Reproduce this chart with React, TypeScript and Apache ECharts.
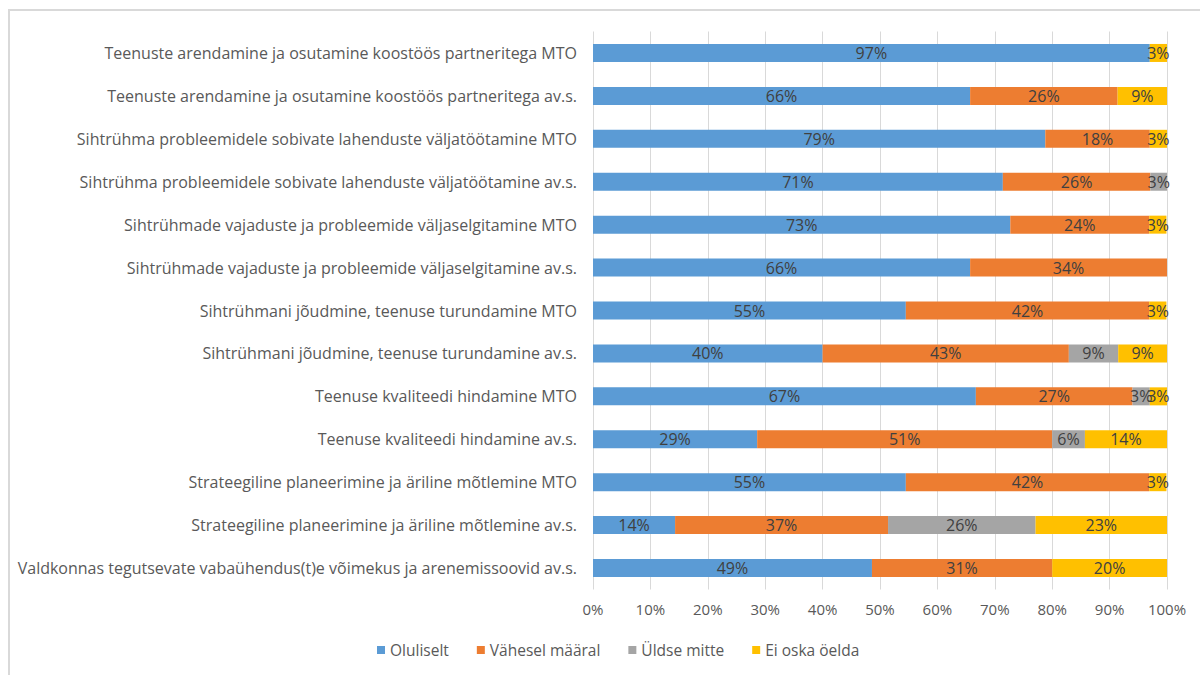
import React, { useEffect, useRef } from "react";
import * as echarts from "echarts";

const categories = [
  "Teenuste arendamine ja osutamine koostöös partneritega MTO",
  "Teenuste arendamine ja osutamine koostöös partneritega av.s.",
  "Sihtrühma probleemidele sobivate lahenduste väljatöötamine MTO",
  "Sihtrühma probleemidele sobivate lahenduste väljatöötamine av.s.",
  "Sihtrühmade vajaduste ja probleemide väljaselgitamine MTO",
  "Sihtrühmade vajaduste ja probleemide väljaselgitamine av.s.",
  "Sihtrühmani jõudmine, teenuse turundamine MTO",
  "Sihtrühmani jõudmine, teenuse turundamine av.s.",
  "Teenuse kvaliteedi hindamine MTO",
  "Teenuse kvaliteedi hindamine av.s.",
  "Strateegiline planeerimine ja äriline mõtlemine MTO",
  "Strateegiline planeerimine ja äriline mõtlemine av.s.",
  "Valdkonnas tegutsevate vabaühendus(t)e võimekus ja arenemissoovid av.s.",
];

const seriesNames = ["Oluliselt", "Vähesel määral", "Üldse mitte", "Ei oska öelda"];
const seriesColors = ["#5B9BD5", "#ED7D31", "#A5A5A5", "#FFC000"];

const oluliselt = [97.0, 65.7, 78.8, 71.4, 72.7, 65.7, 54.5, 40.0, 66.7, 28.6, 54.5, 14.3, 48.6];
const vahesel = [0, 25.7, 18.2, 25.7, 24.2, 34.3, 42.4, 42.9, 27.3, 51.4, 42.4, 37.1, 31.4];
const uldse = [0, 0, 0, 2.9, 0, 0, 0, 8.6, 3.0, 5.7, 0, 25.7, 0];
const eiOska = [3.0, 8.6, 3.0, 0, 3.0, 0, 3.0, 8.6, 3.0, 14.3, 3.0, 22.9, 20.0];

const xTicks = [0, 10, 20, 30, 40, 50, 60, 70, 80, 90, 100];

const FONT = "Open Sans";

export default function App() {
  const ref = useRef<HTMLDivElement>(null);
  useEffect(() => {
    if (!ref.current) return;
    const chart = echarts.init(ref.current, undefined, { renderer: "svg" });
    const data = [oluliselt, vahesel, uldse, eiOska];
    chart.setOption({
      animation: false,
      textStyle: { fontFamily: FONT },
      graphic: [
        {
          type: "rect",
          shape: { x: 9, y: 10, width: 1300, height: 800 },
          style: { fill: "none", stroke: "#D9D9D9", lineWidth: 2 },
          silent: true,
        },
      ],
      grid: { left: 593, right: 33, top: 31.5, bottom: 85.5, containLabel: false },
      legend: {
        bottom: 12,
        left: 372,
        itemWidth: 8,
        itemHeight: 8,
        itemGap: 28,
        icon: "rect",
        textStyle: { color: "#595959", fontSize: 15.5, fontFamily: FONT },
        data: seriesNames,
      },
      xAxis: {
        type: "value",
        min: 0,
        max: 100,
        interval: 10,
        axisLine: { show: false },
        axisTick: { show: false },
        splitLine: { show: true, lineStyle: { color: "#D9D9D9", width: 1 } },
        axisLabel: {
          color: "#595959",
          fontSize: 15,
          margin: 12,
          formatter: (v: number) => (xTicks.includes(v) ? v + "%" : ""),
        },
      },
      yAxis: {
        type: "category",
        inverse: true,
        data: categories,
        axisLine: { show: false },
        axisTick: { show: false },
        axisLabel: { color: "#595959", fontSize: 16, margin: 16 },
      },
      series: seriesNames.map((name, i) => ({
        name,
        type: "bar",
        stack: "total",
        barWidth: 18,
        itemStyle: { color: seriesColors[i] },
        label: {
          show: true,
          position: "inside",
          color: "#404040",
          fontSize: 16,
          formatter: (p: any) => (p.value > 0 ? Math.round(p.value) + "%" : ""),
        },
        data: data[i],
      })),
    });
    return () => chart.dispose();
  }, []);
  return (
    <div
      ref={ref}
      style={{ position: "absolute", left: 0, top: 0, width: 1200, height: 675, background: "#fff" }}
    />
  );
}
